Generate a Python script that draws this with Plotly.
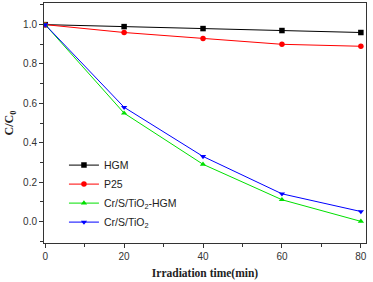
import plotly.graph_objects as go

time_min = [0, 20, 40, 60, 80]
hgm = [1.0, 0.99, 0.98, 0.97, 0.96]
p25 = [1.0, 0.96, 0.93, 0.90, 0.89]
cr_s_tio2_hgm = [1.0, 0.55, 0.29, 0.11, 0.0]
cr_s_tio2 = [1.0, 0.58, 0.33, 0.14, 0.05]

series = [
    ("HGM", hgm, "#000000", "square"),
    ("P25", p25, "#ff0000", "circle"),
    ("Cr/S/TiO<sub>2</sub>-HGM", cr_s_tio2_hgm, "#00e000", "triangle-up"),
    ("Cr/S/TiO<sub>2</sub>", cr_s_tio2, "#0000ff", "triangle-down"),
]

fig = go.Figure()
for name, vals, color, sym in series:
    fig.add_trace(go.Scatter(
        x=time_min, y=vals, name=name, mode="lines+markers",
        line=dict(color=color, width=1),
        marker=dict(symbol=sym, size=5.5, color=color),
    ))

axis_common = dict(
    showgrid=False, zeroline=False, showline=True, linecolor="#333333",
    linewidth=1, mirror=True, ticks="outside", ticklen=4, tickcolor="#333333",
    tickfont=dict(family="Liberation Sans, Arial", size=10, color="#333333"),
)

fig.update_layout(
    width=373, height=282,
    margin=dict(l=44, r=7, t=3, b=39),
    paper_bgcolor="white", plot_bgcolor="white",
    showlegend=True,
    legend=dict(x=0.062, y=0.385, xanchor="left", yanchor="top",
                bgcolor="rgba(0,0,0,0)",
                font=dict(family="Liberation Sans, Arial", size=10.5, color="#222222"),
                tracegroupgap=0, itemwidth=30),
    xaxis=dict(range=[-0.3, 81.3], tickvals=[0, 20, 40, 60, 80],
               minor=dict(tickvals=[10, 30, 50, 70], ticks="outside", ticklen=3, tickcolor="#333333"),
               title=dict(text="<b>Irradiation time(min)</b>",
                          font=dict(family="Liberation Serif, Times New Roman", size=11.5, color="#222222"),
                          standoff=7),
               **axis_common),
    yaxis=dict(range=[-0.11, 1.11], tickvals=[0.0, 0.2, 0.4, 0.6, 0.8, 1.0],
               tickformat=".1f",
               minor=dict(tickvals=[-0.1, 0.1, 0.3, 0.5, 0.7, 0.9, 1.1], ticks="outside", ticklen=3, tickcolor="#333333"),
               title=dict(text="<b>C/C<sub>0</sub></b>",
                          font=dict(family="Liberation Serif, Times New Roman", size=12, color="#222222"),
                          standoff=6),
               **axis_common),
)

fig.write_html("out.html", config={"displayModeBar": False},
               post_script="document.body.style.margin='0';document.body.style.overflow='hidden';")
